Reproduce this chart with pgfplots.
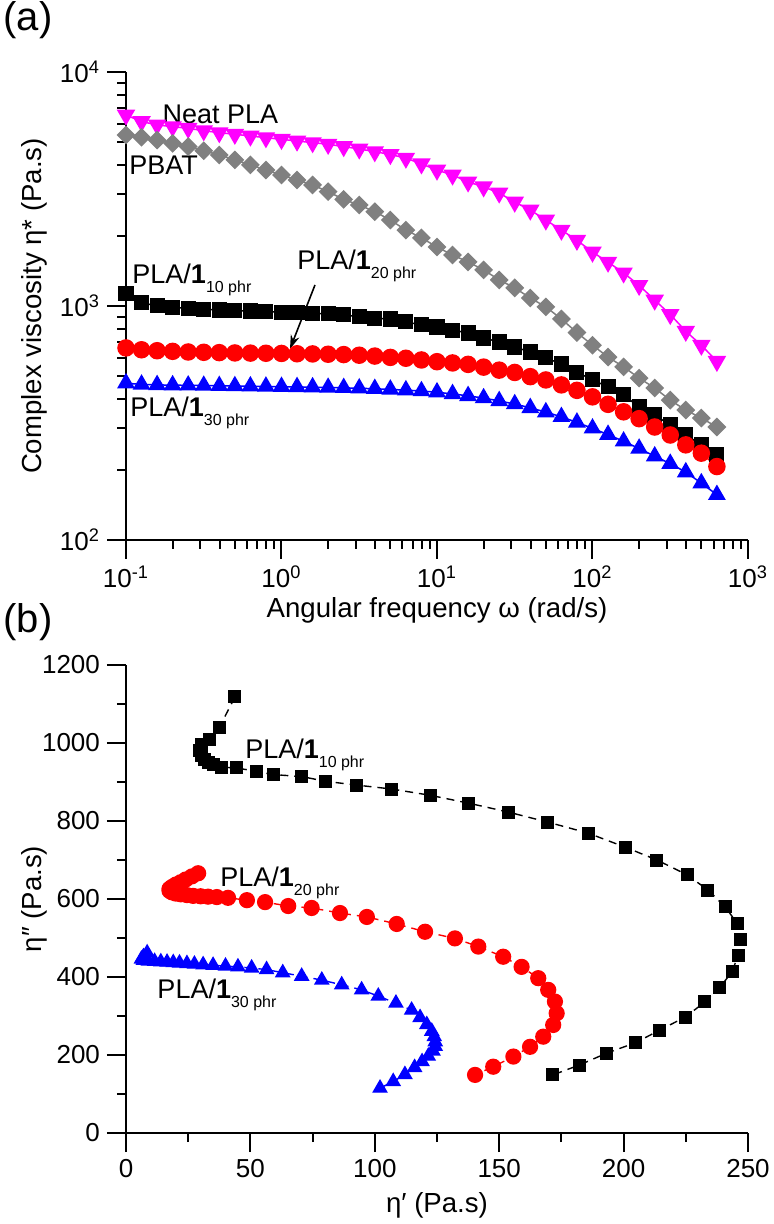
\documentclass[border=0pt]{standalone}
\usepackage{fontspec}
\setmainfont{Liberation Sans}
\usepackage{pgfplots}
\pgfplotsset{compat=1.18}
\usepackage{pgfplotstable}
\usetikzlibrary{arrows.meta}

\definecolor{neat}{RGB}{255,0,255}
\definecolor{pbat}{RGB}{128,128,128}
\definecolor{rd}{RGB}{255,0,0}
\definecolor{bl}{RGB}{0,0,255}

% complex viscosity vs angular frequency
\pgfplotstableread{
w neat pbat p10 p20 p30
0.1 6550 5380 1130 662 468
0.1259 6140 5260 1031 650 462
0.1585 5940 5120 1003 644 460
0.1995 5840 4950 987 640 459
0.2512 5745 4800 977 636 458
0.3162 5610 4610 968 634 457
0.3981 5505 4420 961 632 456
0.5012 5420 4210 955 630 455
0.631 5325 4010 952 629 454
0.7943 5240 3810 946 628 453
1 5155 3630 940 627 452
1.259 5070 3455 936 625 451
1.585 4990 3290 931 624 450
1.995 4910 3080 925 622 448
2.512 4800 2855 916 620 447
3.162 4690 2700 900 616 445
3.981 4565 2530 886 611 443
5.012 4440 2330 880 603 440
6.31 4285 2110 855 598 437
7.943 4050 1955 830 588 433
10 3810 1787 813 578 428
12.59 3630 1652 789 571 421
15.85 3390 1542 767 563 413
19.95 3230 1426 730 548 404
25.12 3040 1292 702 532 393
31.62 2780 1195 668 520 381
39.81 2570 1082 636 499 367
50.12 2330 991 600 483 352
63.1 2110 880 565 460 336
79.43 1910 770 522 436 318
100 1700 680 483 409 300
125.9 1540 605 451 380 282
158.5 1385 549 417 353 264
199.5 1225 492 370 330 246
251.2 1060 446 342 304 228
316.2 920 396 310 281 212
398.1 780 359 281 255 195
501.2 680 332 255 235 175
631 580 304 231 206 156
}\visc

% Cole-Cole: eta' (ep) vs eta'' (epp)
\pgfplotstableread{
ep epp
43.8 1118
37.5 1040
33.5 1008
30.5 995
29.5 982
30.5 968
31.5 958
33 950
35 944
38.5 938
44.6 936
52.5 927
59.2 919
70.6 914
80.0 902
92.8 892
106.8 882
122.2 866
137.5 846
153.6 823
169.6 797
185.7 769
200.6 733
213.4 700
225.5 662
233.9 623
240.8 580
245.6 538
246.8 496
246.0 456
243.6 413
238.7 374
232.7 336
224.7 297
214.6 264
204.6 231
193.3 205
182.1 174
171.6 149
}\ccten

\pgfplotstableread{
ep epp
29 666
26.5 658
24 650
22 643
20 637
18.5 631
17.5 626
17.5 621
18.5 617
20 614
22 612
24.5 610
27 608
30 607
33 606
36.5 605
41 603
48.6 597
55.9 592
65.2 582
74.6 577
86 564
96.8 554
108.8 536
120.2 516
132.2 499
141.6 478
151.6 452
159 426
165.7 397
169.7 367
172.4 337
173.1 307
171.7 277
167.7 247
162.4 221
155.7 196
147.6 170
140.3 149
}\cctwenty

\pgfplotstableread{
ep epp
8.5 462
7 452
6.2 446
7 443
9 441
11.5 440
14 439
16.5 438
19 437
21.5 436
24.5 434.5
27.5 433
31 431.5
35 430
40 428
45 426
50.5 423
56.5 419
63 411
70.6 402
78.7 392
86.7 380
94.7 367
101.4 351
108.5 333
114.8 315
118.2 296
120.9 278
122.9 261
123.9 247
124.3 234
124.3 222
123.4 210
121.5 197
119 183
116 168
112.1 150
107.4 132
102.1 115
}\ccthirty

\newcommand\txt{\fontsize{13.5}{16}\selectfont}
\newcommand\sub[1]{\raisebox{-4.5pt}{\fontsize{8}{9}\selectfont #1}}

\pgfplotsset{
  panel/.style={
    scale only axis, width=311pt, height=234pt,
    axis x line*=bottom, axis y line*=left,
    axis line style={-, line width=1pt},
    tick align=outside,
    major tick length=9.5pt, minor tick length=4.5pt,
    tick style={black, line width=1pt},
    tick label style={font=\fontsize{13}{15}\selectfont},
    label style={font=\fontsize{13.8}{16}\selectfont},
    /pgf/number format/assume math mode=true,
    /pgf/number format/set thousands separator={},
    clip=false,
  },
}

\begin{document}
\begin{tikzpicture}
\begin{axis}[panel,
  xmode=log, ymode=log,
  xmin=0.1, xmax=1000, ymin=100, ymax=10000,
  xtick={0.1,1,10,100,1000},
  xticklabels={10\textsuperscript{-1},10\textsuperscript{0},10\textsuperscript{1},10\textsuperscript{2},10\textsuperscript{3}},
  minor xtick={0.2,0.3,0.4,0.5,0.6,0.7,0.8,0.9,2,3,4,5,6,7,8,9,20,30,40,50,60,70,80,90,200,300,400,500,600,700,800,900},
  ytick={100,1000,10000},
  yticklabels={10\textsuperscript{2},10\textsuperscript{3},10\textsuperscript{4}},
  minor ytick={200,300,400,500,600,700,800,900,2000,3000,4000,5000,6000,7000,8000,9000},
  xlabel={Angular frequency ω (rad/s)},
  ylabel={Complex viscosity η* (Pa.s)},
  xlabel style={at={(axis description cs:0.5,-0.150)}, anchor=center},
  ylabel style={at={(axis description cs:-0.148,0.5)}, anchor=center},
]
\addplot[black, line width=0.75pt, mark=square*, mark size=3.4pt] table[x=w, y=p10] {\visc};
\addplot[rd, line width=0.75pt, mark=*, mark size=4.0pt] table[x=w, y=p20] {\visc};
\addplot[bl, line width=0.75pt, mark=triangle*, mark size=4.4pt] table[x=w, y=p30] {\visc};
\addplot[neat, line width=0.75pt, mark=triangle*, mark size=4.6pt, mark options={rotate=180}] table[x=w, y=neat] {\visc};
\addplot[pbat, line width=0.75pt, mark=square*, mark size=2.95pt, mark options={rotate=45}] table[x=w, y=pbat] {\visc};

\node[anchor=base west, font=\txt, inner sep=0pt] at (axis cs:0.171,6050) {Neat PLA};
\node[anchor=base west, font=\txt, inner sep=0pt] at (axis cs:0.1045,3630) {PBAT};
\node[anchor=base west, font=\txt, inner sep=0pt] at (axis cs:0.1094,1253) {PLA/\textbf{1}\sub{10 phr}};
\node[anchor=base west, font=\txt, inner sep=0pt] at (axis cs:1.258,1426) {PLA/\textbf{1}\sub{20 phr}};
\node[anchor=base west, font=\txt, inner sep=0pt] at (axis cs:0.106,336) {PLA/\textbf{1}\sub{30 phr}};
\draw[-{Stealth[length=7pt,width=4.5pt]}, line width=0.8pt] (axis cs:1.642,1230) -- (axis cs:1.134,655);
\end{axis}

\begin{axis}[panel, at={(0pt,-296.5pt)}, anchor=south west,
  xmin=0, xmax=250, ymin=0, ymax=1200,
  xtick={0,50,...,250}, ytick={0,200,...,1200},
  minor x tick num=1, minor y tick num=1,
  xlabel={η′ (Pa.s)},
  ylabel={η″ (Pa.s)},
  xlabel style={at={(axis description cs:0.5,-0.154)}, anchor=center},
  ylabel style={at={(axis description cs:-0.148,0.5)}, anchor=center},
]
\addplot[black, line width=0.7pt, dash pattern=on 4pt off 3pt, mark=square*, mark size=2.9pt, mark options={solid}] table[x=ep, y=epp] {\ccten};
\addplot[rd, line width=0.7pt, dash pattern=on 4pt off 3pt, mark=*, mark size=3.7pt, mark options={solid}] table[x=ep, y=epp] {\cctwenty};
\addplot[bl, line width=0.7pt, dash pattern=on 4pt off 3pt, mark=triangle*, mark size=3.85pt, mark options={solid}] table[x=ep, y=epp] {\ccthirty};

\node[anchor=base west, font=\txt, inner sep=0pt] at (axis cs:47.8,961) {PLA/\textbf{1}\sub{10 phr}};
\node[anchor=base west, font=\txt, inner sep=0pt] at (axis cs:37.8,631) {PLA/\textbf{1}\sub{20 phr}};
\node[anchor=base west, font=\txt, inner sep=0pt] at (axis cs:12.5,346) {PLA/\textbf{1}\sub{30 phr}};
\end{axis}

\node[font=\fontsize{20}{22}\selectfont] at (-49pt,260pt) {(a)};
\node[font=\fontsize{20}{22}\selectfont] at (-49pt,-41pt) {(b)};
\pgfresetboundingbox
\path[use as bounding box] (-63pt,-342pt) rectangle (324pt,270pt);
\end{tikzpicture}
\end{document}
